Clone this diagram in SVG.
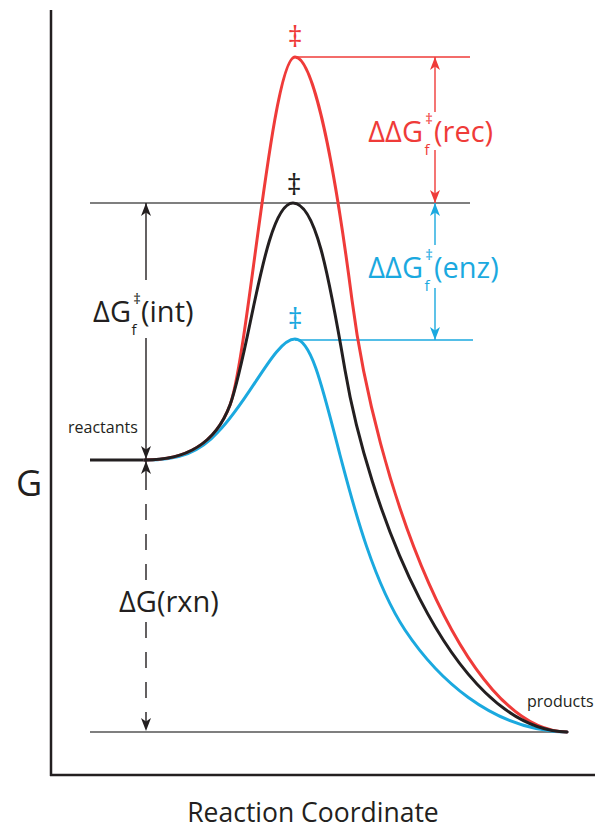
<svg xmlns="http://www.w3.org/2000/svg" width="595" height="832" viewBox="0 0 595 832">
<defs>
<style>
.t{font-family:"Open Sans","Noto Sans","DejaVu Sans",sans-serif;}
.lbl{font-size:29px;}
.sm{font-size:15px;}
.dag{font-size:29px;text-anchor:middle;}
.k{fill:#231f20;}
.r{fill:#ef3b39;}
.b{fill:#1ba9df;}
.curve{fill:none;stroke-width:3;stroke-linecap:round;}
.ln{fill:none;stroke-width:1.4;}
</style>
<marker id="ak" viewBox="0 0 13 10" refX="13" refY="5" markerWidth="13" markerHeight="10" markerUnits="userSpaceOnUse" orient="auto-start-reverse"><path d="M0,0 L13,5 L0,10 L3.5,5 Z" fill="#231f20"/></marker>
<marker id="ar" viewBox="0 0 13 10" refX="13" refY="5" markerWidth="13" markerHeight="10" markerUnits="userSpaceOnUse" orient="auto-start-reverse"><path d="M0,0 L13,5 L0,10 L3.5,5 Z" fill="#ef3b39"/></marker>
<marker id="ab" viewBox="0 0 13 10" refX="13" refY="5" markerWidth="13" markerHeight="10" markerUnits="userSpaceOnUse" orient="auto-start-reverse"><path d="M0,0 L13,5 L0,10 L3.5,5 Z" fill="#1ba9df"/></marker>
</defs>
<rect width="595" height="832" fill="#ffffff"/>

<g id="axes">
<line x1="51" y1="10" x2="51" y2="776" stroke="#231f20" stroke-width="2.5"/>
<line x1="50" y1="775" x2="595" y2="775" stroke="#231f20" stroke-width="2.5"/>
<text class="t k" x="16" y="496" font-size="36">G</text>
<text class="t k" x="313" y="822" font-size="26.5" text-anchor="middle">Reaction Coordinate</text>
</g>

<g id="levels">
<line class="ln" x1="90" y1="203" x2="470" y2="203" stroke="#555555"/>
<line class="ln" x1="294" y1="57" x2="470" y2="57" stroke="#ef3b39"/>
<line class="ln" x1="295" y1="340" x2="473" y2="340" stroke="#1ba9df"/>
<line class="ln" x1="90" y1="732" x2="566" y2="732" stroke="#555555"/>
<line x1="90" y1="460" x2="146" y2="460" stroke="#231f20" stroke-width="3"/>
</g>

<g id="curves">
<path id="curve-enz" class="curve" stroke="#1ba9df" d="M145,460 C180,460 200,452 218,432 C250,400 275,339 295,339 C311,339 322,385 340,455 C352,500 372,580 405,630 C435,675 490,731 567,732"/>
<path id="curve-rec" class="curve" stroke="#ef3b39" d="M145,460 C185,460 215,445 230,405 C248,357 272,57 295,57 C310,57 330,130 352,300 C375,480 462,731 567,732"/>
<path id="curve-int" class="curve" stroke="#231f20" d="M145,460 C185,460 215,445 230,405 C250,350 265,203 293,203 C315,203 328,270 345,370 C367,500 448,729 567,732"/>
</g>

<g id="ts-rec"><text class="t r dag" x="295" y="47">‡</text></g>
<g id="ts-int"><text class="t k dag" x="294" y="195">‡</text></g>
<g id="ts-enz"><text class="t b dag" x="295" y="329">‡</text></g>

<g id="connectors">
<line class="ln" x1="435" y1="57" x2="435" y2="112" stroke="#ef3b39" marker-start="url(#ar)"/>
<line class="ln" x1="435" y1="150" x2="435" y2="203" stroke="#ef3b39" marker-end="url(#ar)"/>
<line class="ln" x1="435" y1="203" x2="435" y2="245" stroke="#1ba9df" marker-start="url(#ab)"/>
<line class="ln" x1="435" y1="288" x2="435" y2="340" stroke="#1ba9df" marker-end="url(#ab)"/>
<line class="ln" x1="146" y1="203" x2="146" y2="280" stroke="#231f20" marker-start="url(#ak)"/>
<line class="ln" x1="146" y1="338" x2="146" y2="459" stroke="#231f20" marker-end="url(#ak)"/>
<line class="ln" x1="146" y1="461" x2="146" y2="474" stroke="#231f20" marker-start="url(#ak)"/>
<line class="ln" x1="146" y1="474" x2="146" y2="585" stroke="#231f20" stroke-dasharray="16 14"/>
<line class="ln" x1="146" y1="622" x2="146" y2="731" stroke="#231f20" stroke-dasharray="16 14" marker-end="url(#ak)"/>
</g>

<g id="label-rec">
<text class="t r lbl" x="423" y="142" text-anchor="end">ΔΔG</text>
<text class="t r sm" x="429" y="124" text-anchor="middle">‡</text>
<text class="t r sm" x="427" y="155" text-anchor="middle">f</text>
<text class="t r lbl" x="434" y="142">(rec)</text>
</g>
<g id="label-enz">
<text class="t b lbl" x="423" y="278" text-anchor="end">ΔΔG</text>
<text class="t b sm" x="429" y="260" text-anchor="middle">‡</text>
<text class="t b sm" x="427" y="291" text-anchor="middle">f</text>
<text class="t b lbl" x="434" y="278">(enz)</text>
</g>
<g id="label-int">
<text class="t k lbl" x="131" y="322" text-anchor="end">ΔG</text>
<text class="t k sm" x="137" y="304" text-anchor="middle">‡</text>
<text class="t k sm" x="134" y="335" text-anchor="middle">f</text>
<text class="t k lbl" x="141" y="322">(int)</text>
</g>
<g id="label-rxn">
<text class="t k lbl" x="119" y="612">ΔG(rxn)</text>
</g>
<g id="label-reactants"><text class="t k" x="68" y="433" font-size="16">reactants</text></g>
<g id="label-products"><text class="t k" x="527" y="707" font-size="16">products</text></g>
</svg>
